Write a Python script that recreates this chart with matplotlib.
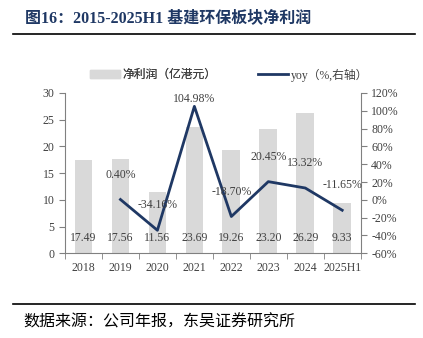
import matplotlib
matplotlib.use('Agg')
import matplotlib.pyplot as plt
from matplotlib.lines import Line2D
from matplotlib.patches import Patch
import numpy as np

plt.rcParams['font.family'] = ['Liberation Serif', 'Noto Sans CJK SC']
plt.rcParams['axes.unicode_minus'] = False

# 数据
years = ['2018', '2019', '2020', '2021', '2022', '2023', '2024', '2025H1']
profit = [17.49, 17.56, 11.56, 23.69, 19.26, 23.20, 26.29, 9.33]
yoy_years = ['2019', '2020', '2021', '2022', '2023', '2024', '2025H1']
yoy = [0.40, -34.16, 104.98, -18.70, 20.45, 13.32, -11.65]

bar_color = '#D9D9D9'
line_color = '#1F3864'
axis_color = '#808080'
txt_color = '#404040'

fig = plt.figure(figsize=(4.23, 3.38), dpi=100)
ax = fig.add_axes([0.1537, 0.2506, 0.699, 0.4743])
ax2 = ax.twinx()

x = np.arange(len(years))
ax.bar(x, profit, width=0.48, color=bar_color, zorder=1)
for xi, v in zip(x, profit):
    ax.text(xi, 2.9, f'{v:.2f}', ha='center', va='center', fontsize=8.5, color=txt_color)

xl = [years.index(y) for y in yoy_years]
ax2.plot(xl, yoy, color=line_color, lw=2, zorder=3)
offsets = [18, 18, 5, 18, 18, 18, 18]
for xi, v, off in zip(xl, yoy, offsets):
    ax2.annotate(f'{v:.2f}%', (xi, v), xytext=(0, off), textcoords='offset points',
                 ha='center', va='center', fontsize=8.5, color=txt_color)

ax.set_xlim(-0.5, len(years) - 0.5)
ax.set_ylim(0, 30)
ax.set_yticks(range(0, 31, 5))
ax2.set_ylim(-60, 120)
ax2.set_yticks(range(-60, 121, 20))
ax2.set_yticklabels([f'{t}%' for t in range(-60, 121, 20)])

ax.set_xticks(x)
ax.set_xticklabels(years)
ax.set_xticks(np.arange(-0.5, len(years), 1), minor=True)
ax.tick_params(axis='x', which='major', length=0, pad=6)
ax.tick_params(axis='x', which='minor', length=4, color=axis_color)
ax.tick_params(axis='y', length=4, color=axis_color)
ax2.tick_params(axis='y', length=4, color=axis_color)
for a in (ax, ax2):
    a.tick_params(labelsize=8.5, labelcolor=txt_color)
    a.spines['top'].set_visible(False)
    for s in ('left', 'right', 'bottom'):
        a.spines[s].set_color(axis_color)
ax.spines['right'].set_visible(False)
ax2.spines['left'].set_visible(False)
ax2.spines['bottom'].set_visible(False)

# 图例（两个分开放）
leg_kw = dict(loc='center left', frameon=False, fontsize=8.5, handlelength=2.55,
              handletextpad=0.2, borderpad=0, borderaxespad=0, labelcolor=txt_color)
leg1 = fig.legend([Patch(color=bar_color)], ['净利润（亿港元）'],
                  bbox_to_anchor=(90 / 423, 0.778), **leg_kw)
fig.legend([Line2D([0], [0], color=line_color, lw=2)], ['yoy（%,右轴）'],
           bbox_to_anchor=(258 / 423, 0.778), **leg_kw)
fig.add_artist(leg1)

# 标题和来源
fig.text(25 / 423, 0.947, '图16：2015-2025H1 基建环保板块净利润', fontsize=11.5,
         fontweight='bold', color=line_color, va='center', ha='left')
fig.add_artist(Line2D([13 / 423, 415 / 423], [0.899, 0.899], color='black', lw=1.2))
fig.add_artist(Line2D([13 / 423, 415 / 423], [0.1006, 0.1006], color='black', lw=1.2))
fig.text(23 / 423, 0.047, '数据来源：公司年报，东吴证券研究所', fontsize=11.5,
         color='black', va='center', ha='left', family=['Noto Sans CJK SC'])

fig.savefig('out.png', dpi=100)
